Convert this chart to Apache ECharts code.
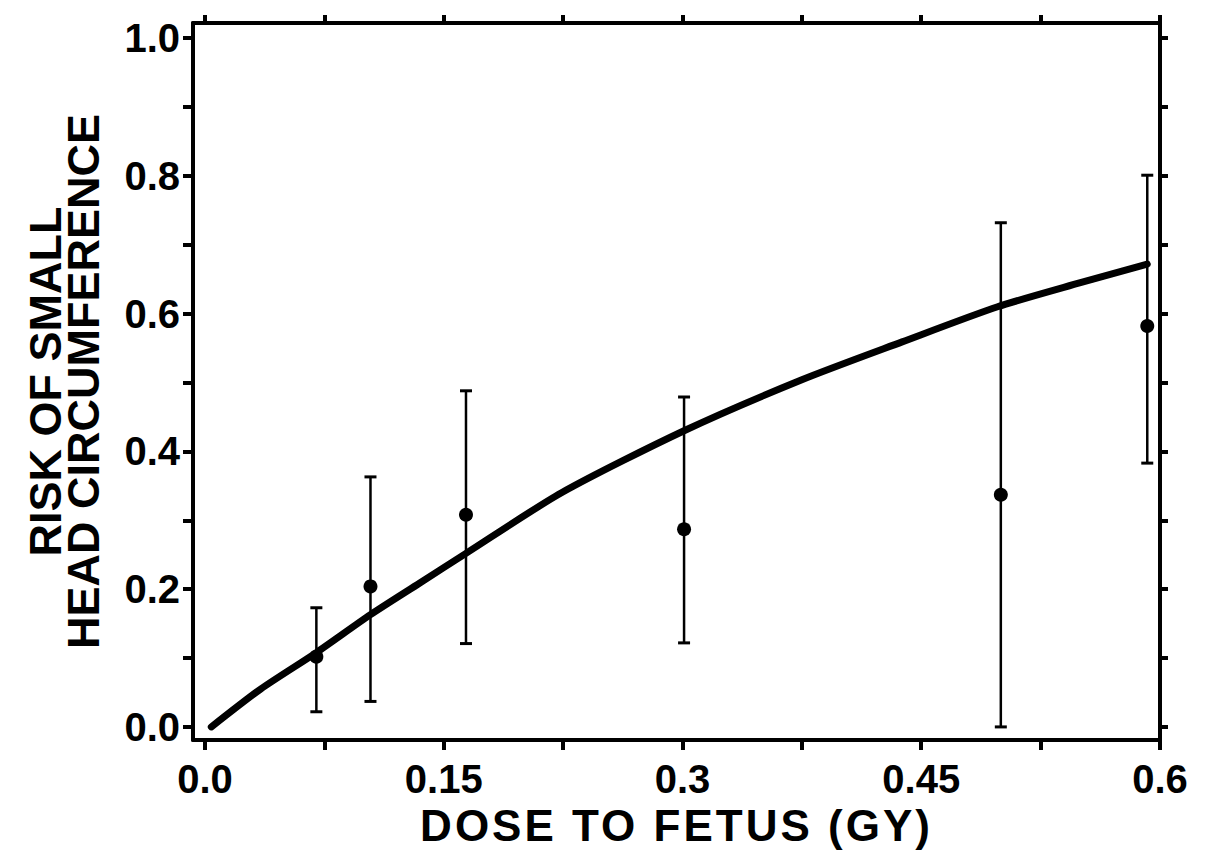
<!DOCTYPE html>
<html><head><meta charset="utf-8">
<script src="https://cdn.jsdelivr.net/npm/echarts@6/dist/echarts.min.js"></script>
<style>
html,body{margin:0;padding:0;background:#fff;}
#c{width:1212px;height:854px;}
#c svg text[style*="44px"]{letter-spacing:3px;}
</style></head><body><div id="c"></div>
<script>
// observed data points (dose in Gy, risk) with error-bar limits
const doseX = [0.070, 0.104, 0.164, 0.301, 0.500, 0.592];
const riskY = [0.102, 0.204, 0.308, 0.287, 0.337, 0.582];
const errLo = [0.022, 0.037, 0.121, 0.122, 0.000, 0.383];
const errHi = [0.173, 0.363, 0.488, 0.479, 0.732, 0.801];

// fitted curve
const curveX = [0.004, 0.035, 0.070, 0.104, 0.135, 0.164, 0.224, 0.301, 0.375, 0.438, 0.498, 0.550, 0.592];
const curveY = [0.000, 0.055, 0.108, 0.163, 0.209, 0.252, 0.340, 0.430, 0.504, 0.559, 0.610, 0.645, 0.672];

// ticks and labels
const xTickValues = [0, 0.075, 0.15, 0.225, 0.3, 0.375, 0.45, 0.525, 0.6];
const xLabelValues = [0, 0.15, 0.3, 0.45, 0.6];
const xLabelTexts = ["0.0", "0.15", "0.3", "0.45", "0.6"];
const yTickValues = [0, 0.1, 0.2, 0.3, 0.4, 0.5, 0.6, 0.7, 0.8, 0.9, 1.0];
const yLabelValues = [0, 0.2, 0.4, 0.6, 0.8, 1.0];
const yLabelTexts = ["0.0", "0.2", "0.4", "0.6", "0.8", "1.0"];

const xTitle = "DOSE TO FETUS (GY)";
const yTitle = "RISK OF SMALL\nHEAD CIRCUMFERENCE";

const FONT = '"Liberation Sans", Arial, sans-serif';
const X_MIN = -0.0075, X_MAX = 0.6, Y_MIN = -0.019, Y_MAX = 1.022;

function findLabel(values, texts, v) {
  for (let i = 0; i < values.length; i++) if (Math.abs(values[i] - v) < 1e-6) return texts[i];
  return '';
}

const axisLineStyle = { show: true, onZero: false, lineStyle: { color: '#000', width: 4 } };
const tickStyle = { show: true, length: 10, lineStyle: { color: '#000', width: 4 } };

const chart = echarts.init(document.getElementById('c'), null, { renderer: 'svg' });
chart.setOption({
  backgroundColor: '#fff',
  animation: false,
  grid: { left: 193, right: 52, top: 23, bottom: 114, containLabel: false },
  xAxis: [{
    type: 'value', position: 'bottom', min: X_MIN, max: X_MAX,
    axisLine: axisLineStyle,
    axisTick: Object.assign({ customValues: xTickValues }, tickStyle),
    axisLabel: {
      customValues: xLabelValues, margin: 19, color: '#000',
      fontFamily: FONT, fontWeight: 'bold', fontSize: 40,
      formatter: v => findLabel(xLabelValues, xLabelTexts, v)
    },
    splitLine: { show: false },
    name: xTitle, nameLocation: 'middle', nameGap: 56,
    nameTextStyle: { color: '#000', fontFamily: FONT, fontWeight: 'bold', fontSize: 44 }
  }, {
    type: 'value', position: 'top', min: X_MIN, max: X_MAX,
    axisLine: axisLineStyle,
    axisTick: Object.assign({ customValues: xTickValues }, tickStyle, { length: 8 }),
    axisLabel: { show: false }, splitLine: { show: false }
  }],
  yAxis: [{
    type: 'value', position: 'left', min: Y_MIN, max: Y_MAX,
    axisLine: axisLineStyle,
    axisTick: Object.assign({ customValues: yTickValues }, tickStyle),
    axisLabel: {
      customValues: yLabelValues, margin: 13, color: '#000',
      fontFamily: FONT, fontWeight: 'bold', fontSize: 40,
      formatter: v => findLabel(yLabelValues, yLabelTexts, v)
    },
    splitLine: { show: false },
    name: yTitle, nameLocation: 'middle', nameGap: 91, nameRotate: 90,
    nameTextStyle: { color: '#000', fontFamily: FONT, fontWeight: 'bold', fontSize: 45, lineHeight: 38, align: 'center' }
  }, {
    type: 'value', position: 'right', min: Y_MIN, max: Y_MAX,
    axisLine: axisLineStyle,
    axisTick: Object.assign({ customValues: yTickValues }, tickStyle, { length: 8 }),
    axisLabel: { show: false }, splitLine: { show: false }
  }],
  series: [{
    type: 'line', xAxisIndex: 0, yAxisIndex: 0,
    data: curveX.map((x, i) => [x, curveY[i]]),
    smooth: 0.25, showSymbol: false, symbol: 'none',
    lineStyle: { color: '#000', width: 7, cap: 'round' }, z: 3
  }, {
    type: 'custom', xAxisIndex: 0, yAxisIndex: 0,
    data: doseX.map((x, i) => [x, errLo[i], errHi[i]]),
    renderItem: function (params, api) {
      const lo = api.coord([api.value(0), api.value(1)]);
      const hi = api.coord([api.value(0), api.value(2)]);
      const hw = 6;
      const st = { stroke: '#000', lineWidth: 2.5 };
      return { type: 'group', children: [
        { type: 'line', shape: { x1: lo[0], y1: lo[1], x2: hi[0], y2: hi[1] }, style: st },
        { type: 'line', shape: { x1: lo[0] - hw, y1: lo[1], x2: lo[0] + hw, y2: lo[1] }, style: { stroke: '#000', lineWidth: 3 } },
        { type: 'line', shape: { x1: hi[0] - hw, y1: hi[1], x2: hi[0] + hw, y2: hi[1] }, style: { stroke: '#000', lineWidth: 3 } }
      ]};
    }, z: 2
  }, {
    type: 'scatter', xAxisIndex: 0, yAxisIndex: 0,
    data: doseX.map((x, i) => [x, riskY[i]]),
    symbol: 'circle', symbolSize: 14,
    itemStyle: { color: '#000', opacity: 1 }, z: 4
  }]
});
</script></body></html>
